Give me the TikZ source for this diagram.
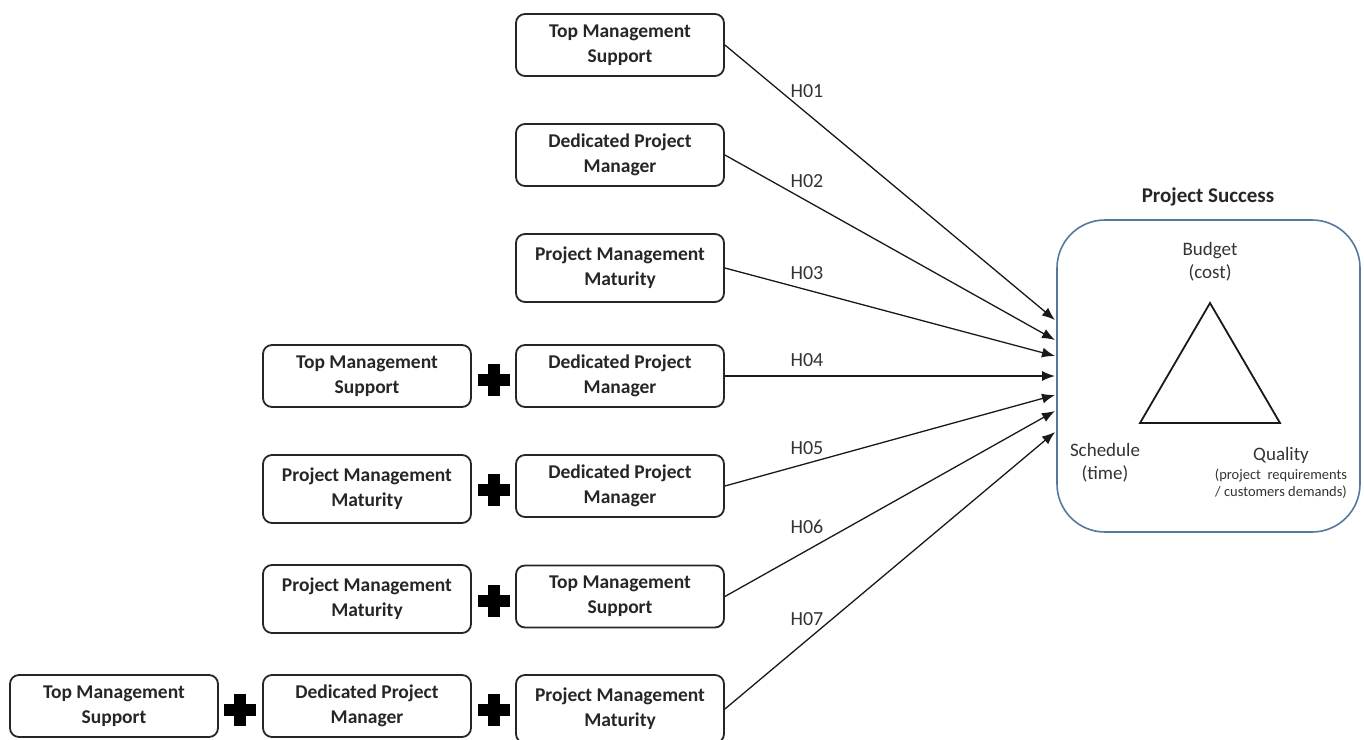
\documentclass[tikz,border=0pt]{standalone}
\usepackage{fontspec}
\setmainfont{Carlito}
\usetikzlibrary{arrows.meta}
\definecolor{psblue}{HTML}{56789E}
\definecolor{txt}{HTML}{262626}
\begin{document}
\begin{tikzpicture}[x=1pt,y=-1pt,
  factor/.style={draw=black!85, line width=1.8pt, rounded corners=9pt,
    minimum width=208pt, minimum height=62pt, align=center, inner sep=0pt,
    font=\bfseries\fontsize{19.5}{25}\selectfont, text=txt},
  tall/.style={minimum height=68pt},
  hyp/.style={-{Latex[length=13pt,width=10pt]}, line width=1.3pt, black!90},
  hlab/.style={font=\fontsize{20}{24}\selectfont, text=black!80},
  plussign/.pic={\fill[black] (-16,-6) rectangle (16,6);
                 \fill[black] (-6,-16) rectangle (6,16);},
  dim/.style={text=black!80, align=center}
]
\useasboundingbox (0,0) rectangle (1364,739);

% right column
\node[factor] (r1) at (620,45)  {Top Management\\Support};
\node[factor] (r2) at (620,155) {Dedicated Project\\Manager};
\node[factor, tall] (r3) at (620,268) {Project Management\\Maturity};
\node[factor] (r4) at (620,376) {Dedicated Project\\Manager};
\node[factor] (r5) at (620,486) {Dedicated Project\\Manager};
\node[factor] (r6) at (620,596.5) {Top Management\\Support};
\node[factor, tall] (r7) at (620,709) {Project Management\\Maturity};

% middle column
\node[factor] (m4) at (367,376) {Top Management\\Support};
\node[factor, tall] (m5) at (367,489) {Project Management\\Maturity};
\node[factor, tall] (m6) at (367,599) {Project Management\\Maturity};
\node[factor] (m7) at (367,706) {Dedicated Project\\Manager};

% left column
\node[factor] (l7) at (114,706) {Top Management\\Support};

% plus signs
\pic at (494,380) {plussign};
\pic at (494,490) {plussign};
\pic at (494,601) {plussign};
\pic at (494,710) {plussign};
\pic at (240,710) {plussign};

% project success
\node[font=\bfseries\fontsize{21}{24}\selectfont, text=txt] (pstitle) at (1208,197) {Project Success};
\node[draw=psblue, line width=1.6pt, rounded corners=48pt, minimum width=303pt,
      minimum height=312pt, inner sep=0pt] (ps) at (1208.5,376) {};
\coordinate (tA) at (1210,303);
\coordinate (tB) at (1140,423);
\coordinate (tC) at (1280,423);
\draw[line width=1.8pt, black!90, line join=miter] (tA) -- (tB) -- (tC) -- cycle;
\node[dim, font=\fontsize{19}{23}\selectfont] (budget) at (1210,262) {Budget\\(cost)};
\node[dim, font=\fontsize{19}{23}\selectfont] (sched) at (1105,463) {Schedule\\(time)};
\node[dim, font=\fontsize{19}{22}\selectfont] (qual) at (1281,455) {Quality};
\node[dim, font=\fontsize{14.5}{17}\selectfont] (qualsub) at (1281,484) {(project\ \ requirements\\/ customers demands)};

% arrow targets
\coordinate (e1) at (1055,320);
\coordinate (e2) at (1055,340);
\coordinate (e3) at (1055,356);
\coordinate (e4) at (1055,376);
\coordinate (e5) at (1055,395);
\coordinate (e6) at (1055,411);
\coordinate (e7) at (1055,432);

\draw[hyp] (r1.east) -- (e1);
\draw[hyp] (r2.east) -- (e2);
\draw[hyp] (r3.east) -- (e3);
\draw[hyp] (r4.east) -- (e4);
\draw[hyp] (r5.east) -- (e5);
\draw[hyp] (r6.east) -- (e6);
\draw[hyp] (r7.east) -- (e7);

\node[hlab] (h1) at (807,91)  {H01};
\node[hlab] (h2) at (807,181) {H02};
\node[hlab] (h3) at (807,273) {H03};
\node[hlab] (h4) at (807,360) {H04};
\node[hlab] (h5) at (807,448) {H05};
\node[hlab] (h6) at (807,527) {H06};
\node[hlab] (h7) at (807,619) {H07};
\end{tikzpicture}
\end{document}
